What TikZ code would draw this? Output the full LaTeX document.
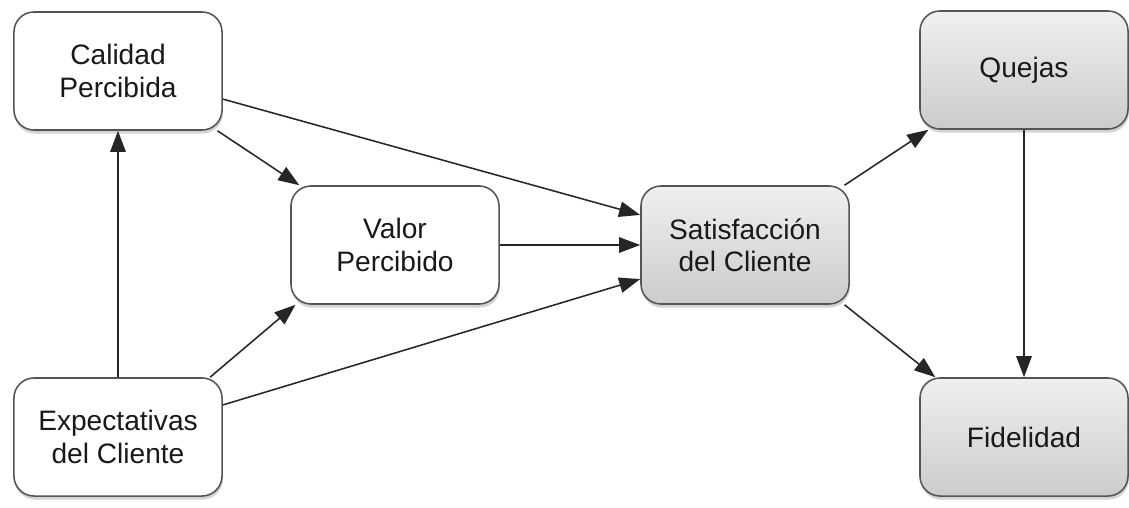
\documentclass[tikz,border=0pt]{standalone}
\usepackage{fontspec}
\setmainfont{Liberation Sans}
\usepackage[svgnames]{xcolor}
\usepackage{tikz}
\usetikzlibrary{shadows,shadings,arrows.meta}
\newcommand{\BW}{5.2cm}
\newcommand{\BH}{2.95cm}

\tikzset{
  box/.style={draw=DimGray!80!black, line width=1.1pt, rounded corners=0.5cm, fill=white,
    minimum width=\BW, minimum height=\BH, align=center, inner sep=2pt,
    font=\fontsize{20}{23}\selectfont, text=black!90,
    drop shadow={shadow xshift=0.6pt, shadow yshift=-2.5pt, opacity=0.35}},
  graybox/.style={box, top color=gray!12, bottom color=gray!40},
  arr/.style={line width=1.1pt, draw=black!85, -{Triangle[length=15pt,width=11pt]}}
}

\begin{document}
\begin{tikzpicture}[x=0.025cm, y=-0.025cm]
    \useasboundingbox (0,0) rectangle (1129,507);

    % boxes
    \node (cal) [box] at (118,71) {Calidad\\Percibida};
    \node (exp) [box] at (118,437) {Expectativas\\del Cliente};
    \node (val) [box] at (395,245) {Valor\\Percibido};
    \node (sat) [graybox] at (745,245) {Satisfacción\\del Cliente};
    \node (que) [graybox] at (1024,70) {Quejas};
    \node (fid) [graybox] at (1024,437) {Fidelidad};

    % arrows
    \draw [arr] (exp.north) -- (cal.south);
    \draw [arr] (cal.-31) -- (val.148);
    \draw [arr] (cal.-15) -- (sat.164);
    \draw [arr] (val.east) -- (sat.west);
    \draw [arr] (exp.33) -- (val.211);
    \draw [arr] (exp.17) -- (sat.198);
    \draw [arr] (sat.31) -- (que.212);
    \draw [arr] (sat.-31) -- (fid.146);
    \draw [arr] (que.south) -- (fid.north);

\end{tikzpicture}
\end{document}
